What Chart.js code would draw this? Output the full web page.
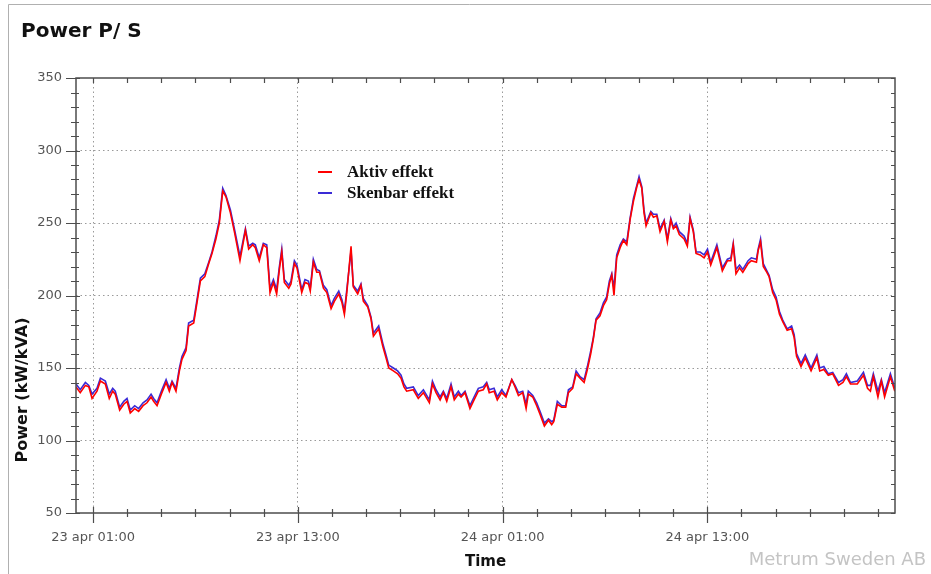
<!DOCTYPE html>
<html>
<head>
<meta charset="utf-8">
<title>Power P/ S</title>
<script src="https://cdn.jsdelivr.net/npm/chart.js@4.4.1/dist/chart.umd.min.js"></script>
<style>
    html, body { margin: 0; padding: 0; background: #fff; }
    #wrap { width: 931px; height: 574px; }
</style>
</head>
<body>
<div id="wrap"><canvas id="powerChart" width="931" height="574"></canvas></div>
<script>
// hours since 23 apr 00:00
const hours = [
    0.00, 0.25, 0.55, 0.75, 0.94, 1.23, 1.43, 1.72, 1.95, 2.15,
    2.30, 2.56, 2.80, 2.99, 3.18, 3.44, 3.67, 3.93, 4.16, 4.40,
    4.55, 4.75, 5.00, 5.28, 5.47, 5.63, 5.86, 6.06, 6.21, 6.45,
    6.60, 6.90, 7.09, 7.29, 7.55, 7.78, 7.97, 8.20, 8.40, 8.60,
    8.79, 9.05, 9.30, 9.61, 9.93, 10.12, 10.36, 10.51, 10.74, 10.98,
    11.18, 11.37, 11.57, 11.76, 11.92, 12.06, 12.21, 12.47, 12.60, 12.80,
    12.95, 13.23, 13.42, 13.62, 13.73, 13.91, 14.11, 14.27, 14.50, 14.70,
    14.95, 15.14, 15.40, 15.59, 15.73, 15.88, 16.12, 16.25, 16.51, 16.70,
    16.84, 17.10, 17.29, 17.43, 17.74, 17.98, 18.17, 18.33, 18.60, 18.85,
    19.05, 19.22, 19.38, 19.77, 20.06, 20.36, 20.71, 20.89, 21.10, 21.34,
    21.53, 21.73, 21.98, 22.17, 22.41, 22.57, 22.80, 23.09, 23.33, 23.58,
    23.87, 24.07, 24.22, 24.50, 24.69, 24.95, 25.20, 25.54, 25.73, 25.93,
    26.18, 26.38, 26.51, 26.77, 27.00, 27.20, 27.45, 27.69, 27.88, 28.00,
    28.21, 28.47, 28.70, 28.86, 29.11, 29.31, 29.54, 29.78, 29.97, 30.17,
    30.32, 30.48, 30.71, 30.91, 31.10, 31.26, 31.40, 31.53, 31.69, 31.89,
    32.08, 32.28, 32.47, 32.67, 32.87, 33.00, 33.16, 33.29, 33.41, 33.69,
    33.84, 34.04, 34.23, 34.47, 34.66, 34.86, 35.01, 35.17, 35.36, 35.64,
    35.83, 35.99, 36.18, 36.34, 36.58, 36.81, 37.01, 37.20, 37.56, 37.88,
    38.18, 38.38, 38.52, 38.68, 38.89, 39.08, 39.39, 39.58, 39.88, 39.98,
    40.12, 40.28, 40.49, 40.62, 40.83, 41.03, 41.23, 41.42, 41.68, 41.94,
    42.09, 42.23, 42.49, 42.74, 43.08, 43.42, 43.59, 43.83, 44.09, 44.35,
    44.69, 44.95, 45.15, 45.39, 45.79, 46.15, 46.39, 46.56, 46.73, 47.00,
    47.20, 47.39, 47.73, 47.99
];

// kW
const aktivEffekt = [
    137, 133, 138, 137, 129, 134, 141, 139, 129, 134,
    132, 121, 125, 127, 119, 122, 120, 124, 126, 130,
    127, 124, 132, 140, 134, 140, 134, 148, 156, 162,
    179, 181, 195, 210, 213, 222, 229, 239, 250, 272,
    268, 257, 243, 224, 245, 232, 235, 233, 224, 235,
    233, 202, 209, 201, 218, 230, 209, 205, 208, 222,
    219, 202, 209, 208, 203, 223, 216, 216, 205, 202,
    191, 196, 201, 195, 187, 203, 234, 206, 201, 207,
    196, 192, 184, 172, 177, 165, 157, 150, 148, 146,
    143, 137, 134, 135, 129, 133, 126, 139, 133, 128,
    133, 127, 137, 128, 132, 130, 133, 122, 128, 134,
    135, 139, 133, 134, 128, 133, 130, 142, 137, 131,
    133, 122, 132, 130, 124, 118, 110, 114, 111, 113,
    125, 123, 123, 133, 136, 146, 143, 140, 149, 160,
    170, 183, 186, 193, 197, 208, 214, 200, 226, 233,
    238, 235, 252, 265, 275, 280, 274, 257, 248, 257,
    254, 255, 244, 251, 237, 252, 246, 248, 242, 239,
    234, 253, 244, 229, 228, 226, 230, 221, 233, 217,
    224, 224, 235, 215, 219, 216, 222, 224, 223, 231,
    237, 220, 216, 213, 202, 197, 187, 182, 176, 177,
    171, 158, 151, 157, 148, 157, 148, 149, 145, 146,
    138, 140, 144, 139, 139, 145, 136, 134, 144, 130,
    141, 130, 144, 134
];

// kVA
const skenbarEffekt = [
    139, 135, 140, 138, 132, 136, 143, 141, 132, 136,
    134, 123, 127, 129, 121, 124, 122, 126, 128, 132,
    129, 126, 134, 142, 136, 141, 136, 150, 158, 164,
    181, 183, 197, 212, 215, 223, 230, 241, 252, 274,
    269, 259, 245, 227, 246, 234, 236, 235, 226, 236,
    235, 205, 211, 204, 220, 232, 211, 207, 210, 224,
    221, 204, 211, 210, 205, 225, 218, 217, 207, 204,
    193, 198, 203, 197, 189, 205, 231, 207, 203, 208,
    198, 193, 185, 174, 179, 167, 159, 152, 150, 148,
    145, 139, 136, 137, 131, 135, 128, 141, 135, 130,
    134, 129, 139, 130, 134, 131, 134, 124, 130, 136,
    137, 140, 135, 136, 130, 135, 131, 142, 138, 133,
    134, 125, 134, 131, 126, 120, 112, 115, 113, 114,
    127, 124, 124, 135, 137, 148, 144, 142, 151, 162,
    171, 184, 188, 195, 199, 210, 215, 205, 228, 235,
    239, 237, 253, 267, 276, 282, 275, 259, 250, 258,
    256, 256, 246, 252, 239, 253, 247, 250, 244, 241,
    236, 254, 245, 230, 230, 228, 232, 223, 235, 219,
    225, 226, 236, 218, 221, 218, 224, 226, 225, 232,
    239, 222, 217, 214, 204, 199, 189, 183, 177, 179,
    173, 160, 153, 159, 150, 159, 150, 151, 146, 147,
    140, 142, 146, 140, 141, 147, 138, 138, 146, 134,
    142, 133, 146, 136
];

const tickHours = [1, 13, 25, 37];
const tickLabels = ['23 apr 01:00', '23 apr 13:00', '24 apr 01:00', '24 apr 13:00'];

const chartFont = '"DejaVu Sans", sans-serif';

// frame, tick marks, legend and texts around the plot
const decor = {
    id: 'decor',
    afterDraw(chart) {
        const ctx = chart.ctx;
        const a = chart.chartArea;
        const x = chart.scales.x;
        const y = chart.scales.y;
        ctx.save();

        // outer border of the panel
        ctx.strokeStyle = '#b0b0b0';
        ctx.lineWidth = 1;
        ctx.beginPath();
        ctx.moveTo(8.5, 574);
        ctx.lineTo(8.5, 4.5);
        ctx.lineTo(931, 4.5);
        ctx.stroke();

        // plot frame
        ctx.strokeStyle = '#4d4d4d';
        ctx.lineWidth = 1.5;
        ctx.strokeRect(a.left, a.top, a.right - a.left, a.bottom - a.top);

        // tick marks
        ctx.lineWidth = 1.2;
        ctx.beginPath();
        for (let h = 1; h < 48; h += 2) {
            const px = Math.round(x.getPixelForValue(h)) + 0.5;
            const major = tickHours.includes(h);
            ctx.moveTo(px, a.bottom - (major ? 6 : 4));
            ctx.lineTo(px, a.bottom + (major ? 10 : 4));
            ctx.moveTo(px, a.top);
            ctx.lineTo(px, a.top + 5);
        }
        for (let v = 50; v <= 350; v += 10) {
            const py = Math.round(y.getPixelForValue(v)) + 0.5;
            const major = v % 50 === 0;
            ctx.moveTo(a.left - (major ? 10 : 5), py);
            ctx.lineTo(a.left + (major ? 4 : 3), py);
            ctx.moveTo(a.right - 4, py);
            ctx.lineTo(a.right, py);
        }
        ctx.stroke();

        // title
        ctx.fillStyle = '#111';
        ctx.font = 'bold 20px ' + chartFont;
        ctx.textAlign = 'left';
        ctx.textBaseline = 'alphabetic';
        ctx.fillText('Power P/ S', 21, 37);

        // legend inside the plot
        ctx.font = 'bold 17px "Liberation Serif", serif';
        chart.data.datasets.forEach(function (ds, i) {
            const ly = 172 + i * 21;
            ctx.strokeStyle = ds.borderColor;
            ctx.lineWidth = 2;
            ctx.beginPath();
            ctx.moveTo(318, ly);
            ctx.lineTo(332, ly);
            ctx.stroke();
            ctx.fillStyle = '#111';
            ctx.fillText(ds.label, 347, ly + 5);
        });

        // y axis title
        ctx.save();
        ctx.translate(23, 390);
        ctx.rotate(-Math.PI / 2);
        ctx.textAlign = 'center';
        ctx.textBaseline = 'middle';
        ctx.font = 'bold 16px ' + chartFont;
        ctx.fillStyle = '#111';
        ctx.fillText('Power (kW/kVA)', 0, 0);
        ctx.restore();

        // watermark
        ctx.font = '18px ' + chartFont;
        ctx.fillStyle = '#c4c4c4';
        ctx.textAlign = 'right';
        ctx.fillText('Metrum Sweden AB', 926, 565);

        ctx.restore();
    }
};

const ctx = document.querySelector('#powerChart');
new Chart(ctx, {
    type: 'line',
    data: {
        datasets: [
            {
                label: 'Aktiv effekt',
                data: hours.map((h, i) => ({x: h, y: aktivEffekt[i]})),
                borderColor: '#ff0000',
                borderWidth: 1.6,
                pointRadius: 0,
                tension: 0
            },
            {
                label: 'Skenbar effekt',
                data: hours.map((h, i) => ({x: h, y: skenbarEffekt[i]})),
                borderColor: '#3a2bd6',
                borderWidth: 1.6,
                pointRadius: 0,
                tension: 0
            }
        ]
    },
    options: {
        responsive: false,
        animation: false,
        layout: {
            padding: {top: 78, right: 36, bottom: 0, left: 0}
        },
        plugins: {
            legend: {display: false},
            tooltip: {enabled: false},
            title: {display: false}
        },
        scales: {
            x: {
                type: 'linear',
                min: 0,
                max: 48,
                afterFit: function (scale) { scale.height = 61; },
                afterBuildTicks: function (scale) {
                    const t = [];
                    for (let h = 1; h < 48; h += 2) t.push({value: h});
                    scale.ticks = t;
                },
                ticks: {
                    autoSkip: false,
                    maxRotation: 0,
                    padding: 17,
                    color: '#555',
                    font: {family: chartFont, size: 13},
                    callback: function (value) {
                        const i = tickHours.indexOf(value);
                        return i >= 0 ? tickLabels[i] : '';
                    }
                },
                grid: {
                    drawTicks: false,
                    lineWidth: 1,
                    color: function (c) {
                        return c.tick && tickHours.includes(c.tick.value) ? '#9a9a9a' : 'rgba(0,0,0,0)';
                    }
                },
                border: {display: false, dash: [1.5, 3]},
                title: {
                    display: true,
                    text: 'Time',
                    color: '#111',
                    font: {family: chartFont, size: 15, weight: 'bold'},
                    padding: {top: 0, bottom: 3}
                }
            },
            y: {
                min: 50,
                max: 350,
                afterFit: function (scale) { scale.width = 76; },
                ticks: {
                    stepSize: 10,
                    autoSkip: false,
                    padding: 14,
                    color: '#555',
                    font: {family: chartFont, size: 13},
                    callback: function (value) {
                        return value % 50 === 0 ? value : '';
                    }
                },
                grid: {
                    drawTicks: false,
                    lineWidth: 1,
                    color: function (c) {
                        const v = c.tick ? c.tick.value : 0;
                        return v % 50 === 0 && v > 50 && v < 350 ? '#9a9a9a' : 'rgba(0,0,0,0)';
                    }
                },
                border: {display: false, dash: [1.5, 3]}
            }
        }
    },
    plugins: [decor]
});
</script>
</body>
</html>
